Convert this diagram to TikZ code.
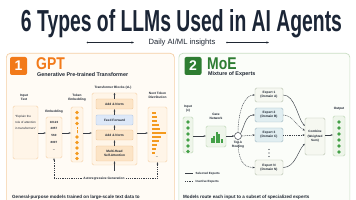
\documentclass[tikz,border=0pt]{standalone}
\usepackage{fontspec}
\setmainfont{Liberation Sans}
\usetikzlibrary{arrows.meta,calc}
\definecolor{navy}{HTML}{1B2536}
\definecolor{ink}{HTML}{1F2733}
\definecolor{arrc}{HTML}{3A3F47}
\definecolor{orng}{HTML}{F27A1A}
\definecolor{dotO}{HTML}{F49A1E}
\definecolor{oBord}{HTML}{F5CFA5}
\definecolor{oPanel}{HTML}{FFFBF5}
\definecolor{oFill}{HTML}{FFF5E8}
\definecolor{anFill}{HTML}{FCE4C6}
\definecolor{anBord}{HTML}{F0C38F}
\definecolor{ffFill}{HTML}{DDE8F8}
\definecolor{ffBord}{HTML}{A9C1E2}
\definecolor{grn}{HTML}{2E7D32}
\definecolor{dotG}{HTML}{43A047}
\definecolor{gBord}{HTML}{CADFC4}
\definecolor{gPanel}{HTML}{FBFDF9}
\definecolor{gFill}{HTML}{EEF5EA}
\definecolor{gBox}{HTML}{B8D4B0}
\definecolor{eFill}{HTML}{F6F8F1}
\definecolor{eBord}{HTML}{B5C0AC}
\definecolor{tFill}{HTML}{E1EEF1}
\definecolor{tBord}{HTML}{9DB8C2}
\begin{document}
\begin{tikzpicture}[x=1pt,y=-1pt,
  lbl/.style={font=\fontsize{3.2}{3.9}\selectfont\bfseries, text=ink, align=center, inner sep=0},
  tiny/.style={font=\fontsize{3}{3.6}\selectfont\bfseries, text=ink, align=center, inner sep=0},
  panelA/.style={draw=oBord, fill=oPanel, rounded corners=4pt, line width=0.7pt, anchor=north west},
  panelB/.style={draw=gBord, fill=gPanel, rounded corners=4pt, line width=0.7pt, anchor=north west},
  boxO/.style={draw=oBord, fill=oFill, rounded corners=1.5pt, line width=0.45pt, inner sep=0},
  boxAN/.style={draw=anBord, fill=anFill, rounded corners=1.2pt, line width=0.4pt, inner sep=0, minimum width=37pt, minimum height=10pt, font=\fontsize{3.2}{3.9}\selectfont\bfseries, text=ink, align=center},
  boxG/.style={draw=gBox, fill=gFill, rounded corners=1.5pt, line width=0.45pt, inner sep=0},
  boxE/.style={draw=eBord, fill=eFill, rounded corners=1.5pt, line width=0.45pt, inner sep=0, minimum width=28pt, minimum height=14pt, font=\fontsize{3.2}{4.2}\selectfont\bfseries, text=ink, align=center},
  boxT/.style={boxE, draw=tBord, fill=tFill},
  badge/.style={rounded corners=2pt, minimum width=17pt, minimum height=18pt, inner sep=0, text=white, font=\fontsize{14}{14}\selectfont\bfseries},
  arr/.style={-{Stealth[length=2.2pt,width=1.8pt]}, line width=0.45pt, draw=arrc},
  darr/.style={arr, dash pattern=on 1pt off 0.8pt},
]
\useasboundingbox (0,0) rectangle (356,200);
\fill[white] (0,0) rectangle (356,200);
\begin{scope}
\clip (0,0) rectangle (356,200);

% title
\node[anchor=base, text=navy, inner sep=0] (title) at (181.5,31.5) {\resizebox{321pt}{22pt}{\bfseries 6 Types of LLMs Used in AI Agents}};
\node[inner sep=0, text=ink, font=\fontsize{7.6}{8}\selectfont] (sub) at (182,42.5) {Daily AI/ML insights};
\coordinate (la) at (87.5,42.5); \coordinate (lb) at (134,42.5);
\coordinate (ra) at (227,42.5); \coordinate (rb) at (269,42.5);
\draw[-{Stealth[length=2.5pt,width=2pt]}, line width=0.5pt, ink] (la) -- (lb);
\draw[-{Stealth[length=2.5pt,width=2pt]}, line width=0.5pt, ink] (ra) -- (rb);
\fill[ink] (la) circle (0.9); \fill[ink] (ra) circle (0.9);

% ===== left panel =====
\node[panelA, minimum width=168pt, minimum height=165pt] (pA) at (6,53) {};
\node[badge, fill=orng] (b1) at (18.5,66) {1};
\node[anchor=west, inner sep=0, text=orng] (gpt) at (36,63.5) {\scalebox{0.82}[1]{\fontsize{17}{17}\selectfont\bfseries GPT}};
\node[anchor=west, inner sep=0, text=ink, font=\fontsize{5.4}{6}\selectfont\bfseries] (gpts) at (37,74.5) {Generative Pre-trained Transformer};

\coordinate (hm) at (0,133);
% input
\node[lbl] (inpl) at (24,97.5) {Input\\Text};
\node[boxO, minimum width=25pt, minimum height=53pt] (inp) at (25.5,132.5) {};
\node[anchor=north west, inner sep=0, align=left, font=\fontsize{3}{6.3}\selectfont, text=ink] (inpt) at (15,115) {``Explain the\\role of attention\\in transformers''};
% embedding
\node[lbl] (embl) at (54,112) {Embedding};
\node[boxO, minimum width=16pt, minimum height=41pt] (emb) at (54,137.5) {};
\node[anchor=north, inner sep=0, font=\fontsize{3}{6.7}\selectfont\bfseries, text=ink, align=center] (embt) at (54,121) {10123\\2057\\560\\8007\\...};
% token embedding
\node[lbl] (tokl) at (77,97.5) {Token\\Embedding};
\node[boxO, minimum width=12pt, minimum height=55pt] (tok) at (77,134.5) {};
\foreach \y in {112.5,118,123.5,137,142.5,148,153.5,158.5} \fill[dotO] (77,\y) circle (1.8);
\draw[dotO, line width=0.5pt, dash pattern=on 0.5pt off 0.8pt] (77,127) -- (77,133.5);
% transformer
\node[lbl] (tbl) at (113,87.5) {Transformer Blocks (xL)};
\node[boxO, minimum width=45pt, minimum height=72pt] (tb) at (114.5,129) {};
\node[boxAN] (an1) at (114.5,104) {Add \& Norm};
\node[boxAN, draw=ffBord, fill=ffFill] (ff) at (114.5,120) {Feed Forward};
\node[boxAN] (an2) at (114.5,135) {Add \& Norm};
\node[boxAN, minimum height=15pt] (mh) at (114.5,153.5) {Multi-Head\\Self-Attention};
\coordinate (tbin) at (114.5,171);
\draw[arr] (tbin) -- (mh.south);
\draw[arr] (mh) -- (an2);
\draw[arr] (an2) -- (ff);
\draw[arr] (ff) -- (an1);
\draw[arr] (an1.north) -- (an1.north |- tb.north);
% next token
\node[lbl] (nxtl) at (157.5,95.5) {Next Token\\Distribution};
\node[boxO, minimum width=19pt, minimum height=55pt] (nxt) at (157.5,134.5) {};
\foreach \y/\l in {113/4,117/5,121/4.5,125/6.5,129/8,133/13.5,137/9,141/6.5,145/5,149/4,153/3}
  \fill[dotO] (152,\y-1.2) rectangle ++(\l,2.4);
\node[tiny] (nxtd) at (157,157.5) {...};
% arrows
\draw[arr] (inp.east |- hm) -- (emb.west |- hm);
\draw[arr] (emb.east |- hm) -- (tok.west |- hm);
\draw[arr] (tok.east |- hm) -- (tb.west |- hm);
\draw[arr] (tb.east |- hm) -- (nxt.west |- hm);
% autoregressive
\coordinate (ar) at (104,178.5);
\draw[{Stealth[length=2.2pt,width=1.8pt]}-{Stealth[length=2.2pt,width=1.8pt]}, line width=0.45pt, arrc, dash pattern=on 1pt off 0.8pt] (nxt.south) |- (ar) -| (emb.south);
\node[lbl, fill=oPanel, inner xsep=1.2pt, inner ysep=0.6pt] (art) at (ar) {Autoregressive Generation};
\node[anchor=west, inner sep=0, text=ink, font=\fontsize{4.55}{5}\selectfont\bfseries] (descA) at (12,197) {General-purpose models trained on large-scale text data to};

% ===== right panel =====
\node[panelB, minimum width=171pt, minimum height=165pt] (pB) at (178.5,53) {};
\node[badge, fill=grn] (b2) at (193,66) {2};
\node[anchor=west, inner sep=0, text=grn] (moe) at (207,63.5) {\scalebox{0.82}[1]{\fontsize{17}{17}\selectfont\bfseries MoE}};
\node[anchor=west, inner sep=0, text=ink, font=\fontsize{5.4}{6}\selectfont\bfseries] (moes) at (208,74.5) {Mixture of Experts};

% input x
\node[lbl] (inxl) at (188,109) {Input\\(x)};
\node[boxG, minimum width=10pt, minimum height=36pt] (inx) at (188,135) {};
\foreach \y in {122,128,134,140,146,151.5} \fill[dotG] (188,\y) circle (1.8);
% gate
\node[lbl] (gatel) at (216,116) {Gate\\Network};
\node[boxG, minimum width=20pt, minimum height=21pt] (gate) at (216,136.5) {};
\foreach \x/\h in {210.5/4.5,213/7,215.5/11,218/8.5,220.5/4} \fill[dotG] (\x,143) rectangle ++(2.1,-\h);
% router
\node[circle, draw=arrc, fill=white, line width=0.5pt, minimum size=7pt, inner sep=0] (rt) at (238,136) {};
\node[lbl] (rtl) at (238,145) {Top-k\\Routing};
\draw[arr] (inx.east |- rt) -- (gate.west |- rt);
\draw[arr] (gate.east |- rt) -- (rt.west);
% experts
\node[boxE] (e1) at (269,95) {Expert 1\\(Domain A)};
\node[boxT] (e2) at (269,115) {Expert 2\\(Domain B)};
\node[boxT] (e3) at (269,135) {Expert 3\\(Domain C)};
\node[boxE, minimum height=15pt] (en) at (269,167.5) {Expert N\\(Domain N)};
\foreach \y in {149.5,153,156.5} \fill[ink] (269,\y) circle (0.55);
% router -> experts
\draw[darr] (rt.north) .. controls ($(rt.north)+(0,-16)$) and ($(e1.west)+(-12,0)$) .. (e1.west);
\draw[arr] (rt.north east) .. controls ($(rt.north east)+(4,-8)$) and ($(e2.west)+(-9,0)$) .. (e2.west);
\draw[darr] (rt.east) -- (e3.west);
\draw[darr] (rt.south) .. controls ($(rt.south)+(0,20)$) and ($(en.west)+(-12,0)$) .. (en.west);
% combine
\node[boxE, minimum width=20pt, minimum height=37pt, font=\fontsize{3.1}{4.6}\selectfont\bfseries] (cmb) at (315,136.5) {Combine\\(Weighted\\Sum)};
\coordinate (c1) at ($(cmb.north west)+(0,8)$);
\coordinate (c2) at ($(cmb.north west)+(0,12.5)$);
\coordinate (c4) at ($(cmb.north west)+(0,26)$);
\draw[arr] (e1.east) .. controls ($(e1.east)+(12,0)$) and ($(c1)+(-7,-7)$) .. (c1);
\draw[darr] (e2.east) .. controls ($(e2.east)+(9,0)$) and ($(c2)+(-7,-3)$) .. (c2);
\draw[darr] (e3.east) -- (e3.east -| cmb.west);
\draw[arr] (en.east) .. controls ($(en.east)+(12,0)$) and ($(c4)+(-7,7)$) .. (c4);
% output
\node[lbl] (outl) at (339,108.5) {Output};
\node[boxG, minimum width=12pt, minimum height=40pt] (out) at (339,136) {};
\foreach \y in {122,128,134,140,146,152} \fill[dotG] (339,\y) circle (1.8);
\draw[arr] (cmb.east |- e3) -- (out.west |- e3);
% legend
\coordinate (s1) at (185,173.5); \coordinate (s2) at (193,173.5);
\coordinate (d1) at (185,181.5); \coordinate (d2) at (193,181.5);
\draw[line width=0.5pt, arrc] (s1) -- (s2);
\draw[line width=0.5pt, arrc, dash pattern=on 1pt off 0.8pt] (d1) -- (d2);
\node[tiny, anchor=west] (sl) at (195.5,173.5) {Selected Experts};
\node[tiny, anchor=west] (dl) at (195.5,181.5) {Inactive Experts};
\node[anchor=west, inner sep=0, text=ink, font=\fontsize{4.55}{5}\selectfont\bfseries] (descB) at (183,197) {Models route each input to a subset of specialized experts};
\end{scope}
\end{tikzpicture}
\end{document}
